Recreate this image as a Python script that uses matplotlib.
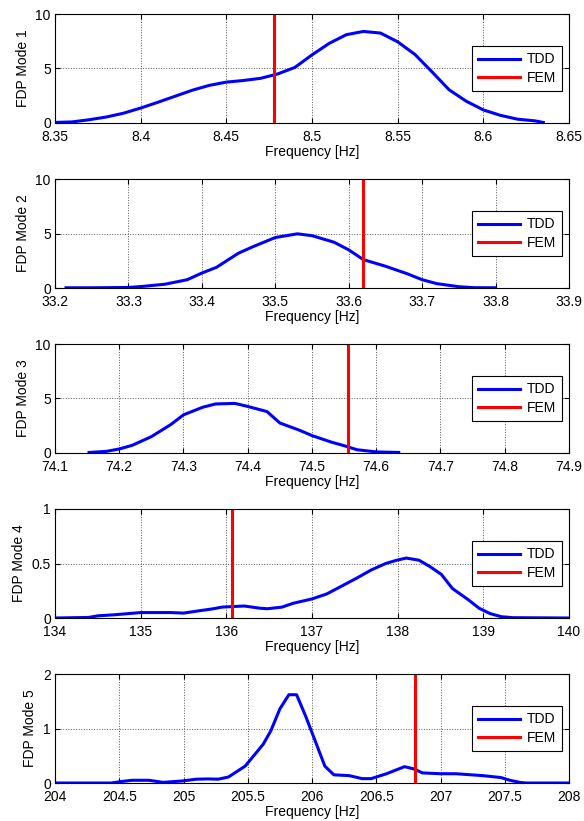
import numpy as np
import matplotlib.pyplot as plt
from matplotlib.ticker import FormatStrFormatter

plt.rcParams['font.family'] = ['Liberation Sans', 'DejaVu Sans']

# DATA
f1 = [8.35, 8.36, 8.37, 8.38, 8.39, 8.40, 8.41, 8.42, 8.43, 8.44, 8.45, 8.46, 8.47, 8.48,
      8.49, 8.50, 8.51, 8.52, 8.53, 8.54, 8.55, 8.56, 8.57, 8.58, 8.59, 8.60, 8.61, 8.62, 8.63, 8.635]
fdp1 = [0.05, 0.1, 0.3, 0.55, 0.9, 1.37, 1.9, 2.45, 3.0, 3.45, 3.75, 3.9, 4.1, 4.5,
        5.1, 6.25, 7.3, 8.1, 8.4, 8.25, 7.45, 6.3, 4.7, 3.05, 2.0, 1.2, 0.7, 0.35, 0.2, 0.05]

f2 = [33.215, 33.25, 33.3, 33.32, 33.35, 33.38, 33.40, 33.42, 33.45, 33.47, 33.50, 33.53,
      33.55, 33.58, 33.60, 33.62, 33.65, 33.68, 33.70, 33.72, 33.75, 33.77, 33.80]
fdp2 = [0.02, 0.02, 0.05, 0.15, 0.35, 0.76, 1.37, 1.9, 3.2, 3.8, 4.63, 4.97,
        4.8, 4.2, 3.5, 2.6, 2.0, 1.3, 0.76, 0.4, 0.12, 0.03, 0.02]

f3 = [74.153, 74.18, 74.20, 74.22, 74.25, 74.28, 74.30, 74.33, 74.35, 74.38, 74.40, 74.43,
      74.45, 74.48, 74.50, 74.53, 74.55, 74.57, 74.60, 74.635]
fdp3 = [0.05, 0.15, 0.37, 0.7, 1.5, 2.6, 3.5, 4.2, 4.5, 4.55, 4.27, 3.8,
        2.75, 2.1, 1.6, 1.0, 0.67, 0.3, 0.1, 0.05]

f4 = [134.0, 134.39, 134.5, 134.7, 134.85, 135.0, 135.35, 135.5, 135.69, 135.85, 135.95,
      136.21, 136.39, 136.48, 136.65, 136.78, 137.0, 137.17, 137.34, 137.52, 137.69, 137.86,
      137.99, 138.1, 138.25, 138.38, 138.51, 138.64, 138.82, 138.95, 139.08, 139.21, 139.34, 140.0]
fdp4 = [0.0, 0.005, 0.02, 0.03, 0.04, 0.05, 0.05, 0.045, 0.067, 0.085, 0.10,
        0.11, 0.09, 0.085, 0.10, 0.135, 0.175, 0.22, 0.29, 0.365, 0.44, 0.50,
        0.53, 0.55, 0.53, 0.47, 0.40, 0.27, 0.17, 0.09, 0.04, 0.012, 0.003, 0.0]

f5 = [204.0, 204.44, 204.51, 204.6, 204.73, 204.84, 204.99, 205.1, 205.19, 205.27, 205.35,
      205.48, 205.62, 205.68, 205.75, 205.82, 205.88, 205.95, 206.03, 206.1, 206.17, 206.29,
      206.39, 206.46, 206.58, 206.65, 206.72, 206.79, 206.86, 207.0, 207.12, 207.21, 207.33,
      207.47, 207.54, 207.62, 207.67, 208.0]
fdp5 = [0.0, 0.0, 0.025, 0.05, 0.05, 0.012, 0.037, 0.07, 0.075, 0.07, 0.11,
        0.31, 0.71, 0.96, 1.36, 1.62, 1.62, 1.23, 0.74, 0.31, 0.15, 0.135,
        0.08, 0.08, 0.17, 0.235, 0.30, 0.26, 0.185, 0.17, 0.17, 0.155, 0.135,
        0.10, 0.05, 0.01, 0.0, 0.0]

fem = [8.478, 33.62, 74.556, 136.07, 206.80]

freqs = [f1, f2, f3, f4, f5]
fdps = [fdp1, fdp2, fdp3, fdp4, fdp5]
xlims = [(8.35, 8.65), (33.2, 33.9), (74.1, 74.9), (134, 140), (204, 208)]
xsteps = [0.05, 0.1, 0.1, 1, 0.5]
ylims = [10, 10, 10, 1, 2]

fig = plt.figure(figsize=(5.84, 8.21), dpi=100)
W, H = 584, 821
left, right = 55, 569
fs = 10
for i in range(5):
    top = 14 + 165 * i
    ax = fig.add_axes([left / W, 1 - (top + 109) / H, (right - left) / W, 109 / H])
    ax.plot(freqs[i], fdps[i], color='#0000ff', lw=2.2, label='TDD')
    ax.axvline(fem[i], color='#ff0000', lw=2.2, label='FEM')
    ax.set_xlim(*xlims[i])
    ax.set_ylim(0, ylims[i])
    ax.set_xticks(np.arange(xlims[i][0], xlims[i][1] + xsteps[i] / 2, xsteps[i]))
    ax.set_yticks([0, ylims[i] / 2, ylims[i]])
    ax.xaxis.set_major_formatter(FormatStrFormatter('%g'))
    ax.yaxis.set_major_formatter(FormatStrFormatter('%g'))
    ax.tick_params(direction='in', top=True, right=True, length=3.5, width=0.8,
                   labelsize=fs)
    ax.tick_params(axis='x', pad=5)
    ax.tick_params(axis='y', pad=3)
    ax.grid(True, linestyle=':', color='0.35', lw=0.7)
    for s in ax.spines.values():
        s.set_linewidth(0.8)
    ax.set_xlabel('Frequency [Hz]', fontsize=fs, labelpad=1)
    ax.set_ylabel('FDP Mode %d' % (i + 1), fontsize=fs, labelpad=4)
    leg = ax.legend(loc='center right', fontsize=fs, fancybox=False, framealpha=1,
                    edgecolor='black', handlelength=3.0, labelspacing=0.3,
                    borderaxespad=0.5, handletextpad=0.5, borderpad=0.45)
    leg.get_frame().set_linewidth(0.8)

fig.savefig('out.png', dpi=100)
